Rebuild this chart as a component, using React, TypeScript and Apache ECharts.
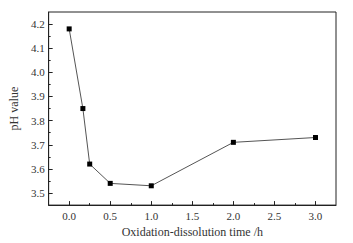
import React, { useEffect, useRef } from "react";
import * as echarts from "echarts";

const times = [0, 0.167, 0.25, 0.5, 1, 2, 3];
const phValues = [4.18, 3.85, 3.62, 3.54, 3.53, 3.71, 3.73];
const xTicks = [0, 0.5, 1, 1.5, 2, 2.5, 3];
const xMinorTicks = [0.25, 0.75, 1.25, 1.75, 2.25, 2.75];
const yTicks = [3.5, 3.6, 3.7, 3.8, 3.9, 4.0, 4.1, 4.2];
const yMinorTicks = [3.55, 3.65, 3.75, 3.85, 3.95, 4.05, 4.15];

const FONT = "Liberation Serif";

export default function App() {
  const ref = useRef<HTMLDivElement>(null);
  useEffect(() => {
    const chart = echarts.init(ref.current!, null, { renderer: "svg" });
    const common = {
      type: "value" as const,
      splitLine: { show: false },
    };
    chart.setOption({
      animation: false,
      backgroundColor: "#fff",
      grid: {
        left: 45,
        top: 12,
        right: 17,
        bottom: 36,
        show: true,
        borderColor: "#222",
        borderWidth: 1,
      },
      xAxis: [
        {
          ...common,
          min: -0.25,
          max: 3.25,
          interval: 0.25,
          name: "Oxidation-dissolution time /h",
          nameLocation: "middle",
          nameGap: 20,
          nameTextStyle: { fontFamily: FONT, fontSize: 12, color: "#333" },
          axisLine: { show: true, onZero: false, lineStyle: { color: "#222" } },
          axisTick: {
            show: true,
            inside: true,
            length: 4,
            customValues: xTicks,
            lineStyle: { color: "#222" },
          },
          axisLabel: {
            customValues: xTicks,
            formatter: (v: number) => v.toFixed(1),
            fontFamily: FONT,
            fontSize: 11,
            color: "#333",
            margin: 5,
          },
        },
        {
          ...common,
          min: -0.25,
          max: 3.25,
          interval: 0.25,
          position: "bottom",
          axisLine: { show: false, onZero: false },
          axisTick: {
            show: true,
            inside: true,
            length: 2,
            customValues: xMinorTicks,
            lineStyle: { color: "#222" },
          },
          axisLabel: { show: false },
        },
      ],
      yAxis: [
        {
          ...common,
          min: 3.45,
          max: 4.25,
          interval: 0.05,
          name: "pH value",
          nameLocation: "middle",
          nameGap: 19,
          nameTextStyle: { fontFamily: FONT, fontSize: 12, color: "#333" },
          axisLine: { show: true, onZero: false, lineStyle: { color: "#222" } },
          axisTick: {
            show: true,
            inside: true,
            length: 4,
            customValues: yTicks,
            lineStyle: { color: "#222" },
          },
          axisLabel: {
            customValues: yTicks,
            formatter: (v: number) => v.toFixed(1),
            fontFamily: FONT,
            fontSize: 11,
            color: "#333",
            margin: 4,
          },
        },
        {
          ...common,
          min: 3.45,
          max: 4.25,
          interval: 0.05,
          position: "left",
          axisLine: { show: false, onZero: false },
          axisTick: {
            show: true,
            inside: true,
            length: 2,
            customValues: yMinorTicks,
            lineStyle: { color: "#222" },
          },
          axisLabel: { show: false },
        },
      ],
      series: [
        {
          type: "line",
          xAxisIndex: 0,
          yAxisIndex: 0,
          data: times.map((t, i) => [t, phValues[i]]),
          symbol: "rect",
          symbolSize: 5,
          itemStyle: { color: "#000" },
          lineStyle: { color: "#555", width: 1 },
        },
      ],
    });
    return () => chart.dispose();
  }, []);
  return <div ref={ref} style={{ width: 353, height: 243, position: "absolute", left: 0, top: 0 }} />;
}
